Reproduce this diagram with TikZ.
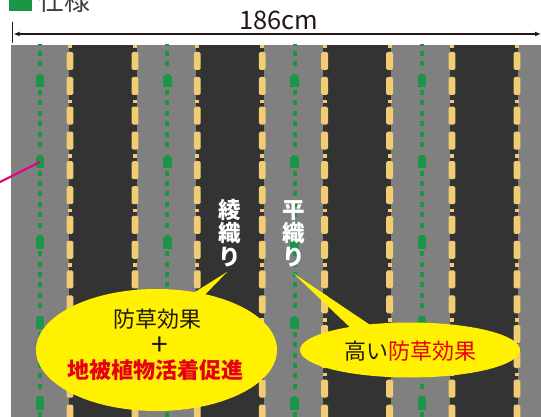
\documentclass[tikz,border=0pt]{standalone}
\usepackage{fontspec}
\newfontfamily\jp{Noto Sans CJK JP}
\usetikzlibrary{arrows.meta}
\definecolor{fabgrey}{RGB}{128,128,128}
\definecolor{fabdark}{RGB}{51,51,51}
\definecolor{thread}{RGB}{242,204,115}
\definecolor{grn}{RGB}{26,150,70}
\definecolor{mag}{RGB}{229,0,127}
\definecolor{cyel}{RGB}{255,241,0}
\definecolor{ink}{RGB}{35,24,21}
\definecolor{cred}{RGB}{230,0,18}
\tikzset{
  dimline/.style={draw=ink, line width=1.2pt},
  vlabel/.style={white, align=center, inner sep=0pt, font=\jp\bfseries\fontsize{22.5}{23.5}\selectfont},
  calltext/.style={inner sep=0pt, font=\jp\fontsize{22}{26}\selectfont},
}
\begin{document}
\begin{tikzpicture}[x=1pt,y=-1pt]
\useasboundingbox (0,0) rectangle (541,417);
% title
\fill[grn] (9,-12) rectangle (32,11);
\node[anchor=base west, inner sep=0pt, text=ink!85, font=\jp\fontsize{26}{26}\selectfont] (title) at (38,10.5) {仕様};
% dimension line
\coordinate (dimL) at (13.5,34);
\coordinate (dimR) at (541,34);
\draw[ink, line width=1.4pt] (12.7,22) -- (12.7,43);
\draw[dimline, {Latex[length=6pt,width=5pt]}-{Latex[length=6pt,width=5pt]}] (dimL) -- (dimR);
\node[anchor=base, inner sep=0pt, text=ink, font=\jp\fontsize{25.5}{26}\selectfont] (width) at (279,30) {186cm};
% fabric
\begin{scope}
\clip (11,45) rectangle (541,417);
\fill[fabgrey] (11,45) rectangle (541,417);
\foreach \i in {0,...,3}{
  \pgfmathsetmacro\xl{70+127.3*\i}
  \pgfmathsetmacro\xr{135+127.3*\i}
  \fill[fabdark] (\xl-1.5,45) rectangle (\xr+1.5,417);
  \foreach \xx in {\xl,\xr}{
    \foreach \k in {-1,...,7}{
      \pgfmathsetmacro\p{45+54.6*\k}
      \fill[thread] (\xx-2,\p) rectangle (\xx+2,\p+3.5);
      \fill[thread, rounded corners=1.5pt] (\xx-3.4,\p+7) rectangle (\xx+3.4,\p+25);
      \fill[thread, rounded corners=1.5pt] (\xx-3.4,\p+32) rectangle (\xx+3.4,\p+50);
    }
  }
}
\foreach \i in {0,...,3}{
  \pgfmathsetmacro\xg{40+127.3*\i}
  \foreach \k in {0,...,5}{
    \pgfmathsetmacro\b{-6.6+80.6*\k}
    \fill[grn] (\xg-2.7,\b) rectangle (\xg+2.7,\b+2);
    \fill[grn] (\xg-4.2,\b+2) rectangle (\xg+4.2,\b+13.5);
    \foreach \j in {0,...,5}{
      \fill[grn] (\xg-2.1,\b+16+10.4*\j) rectangle (\xg+2.1,\b+21+10.4*\j);
    }
  }
}
\end{scope}
% magenta leader
\coordinate (magstart) at (-5,184.5);
\coordinate (knot) at (40,162);
\draw[mag, line width=2.2pt] (magstart) -- (knot);
% weave labels
\node[vlabel] (aya) at (230,233) {綾\\織\\り};
\node[vlabel] (hira) at (293.5,233.5) {平\\織\\り};
% callout 1
\fill[cyel] (227,272) -- (179,302) -- (198,302) -- cycle;
\fill[cyel] (156.5,350) ellipse [x radius=120.5pt, y radius=61pt];
\node[calltext, text=ink] (c1a) at (157,319) {防草効果};
\node[calltext, text=ink, font=\jp\fontsize{30}{30}\selectfont] (c1b) at (160,346) {+};
\node[calltext, text=cred, font=\jp\bfseries\fontsize{22}{26}\selectfont] (c1c) at (155.5,370) {地被植物活着促進};
% callout 2
\fill[cyel] (293,273) -- (358,335) -- (385,335) -- cycle;
\fill[cyel] (410,350) ellipse [x radius=110pt, y radius=27.5pt];
\node[calltext] (c2) at (410,351) {\textcolor{ink}{高い}\textcolor{cred}{防草効果}};
\end{tikzpicture}
\end{document}
